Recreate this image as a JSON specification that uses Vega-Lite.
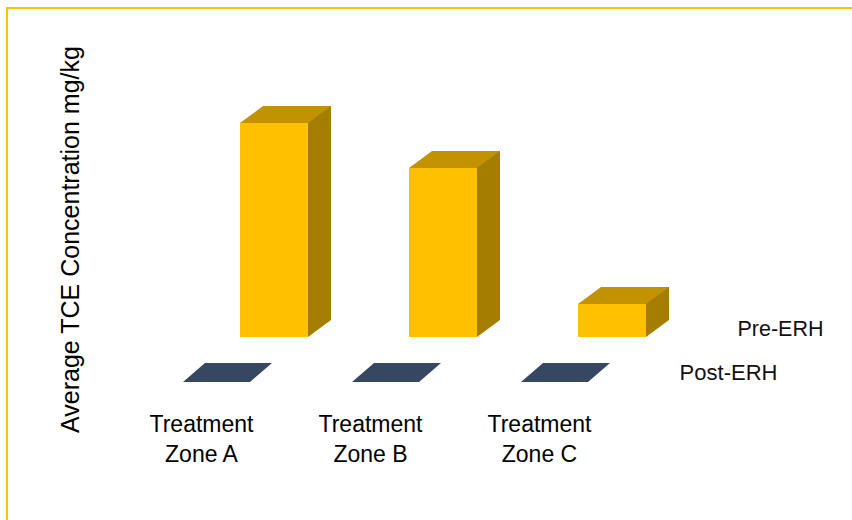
{
  "$schema": "https://vega.github.io/schema/vega-lite/v6.json",
  "width": 852,
  "height": 520,
  "autosize": "none",
  "padding": {"left": 7, "top": 8, "right": 0, "bottom": 0},
  "background": "white",
  "config": {
    "view": {"stroke": "#FFC000", "strokeWidth": 2},
    "font": "Liberation Sans"
  },
  "data": {
    "values": [
      {"zone": "Treatment Zone A", "period": "Pre-ERH", "value": 214},
      {"zone": "Treatment Zone B", "period": "Pre-ERH", "value": 169},
      {"zone": "Treatment Zone C", "period": "Pre-ERH", "value": 33},
      {"zone": "Treatment Zone A", "period": "Post-ERH", "value": 0},
      {"zone": "Treatment Zone B", "period": "Post-ERH", "value": 0},
      {"zone": "Treatment Zone C", "period": "Post-ERH", "value": 0}
    ]
  },
  "encoding": {
    "x": {
      "field": "zone",
      "type": "nominal",
      "sort": null,
      "scale": {"type": "point", "range": [267, 605], "padding": 0},
      "axis": {
        "title": null,
        "domain": false,
        "ticks": false,
        "grid": false,
        "labelAngle": 0,
        "labelFont": "Liberation Sans",
        "labelFontSize": 23,
        "labelColor": "#000000",
        "labelOffset": -73,
        "labelPadding": 13,
        "offset": -128,
        "labelAlign": "center",
        "labelBaseline": "top",
        "labelLineHeight": 30,
        "labelExpr": "[slice(datum.label, 0, 9), slice(datum.label, 10)]"
      }
    },
    "y": {
      "field": "value",
      "type": "quantitative",
      "scale": {"domain": [0, 250], "range": [329, 79]},
      "axis": {
        "title": "Average TCE Concentration mg/kg",
        "titleFont": "Liberation Sans",
        "titleFontSize": 25,
        "titleFontWeight": "normal",
        "titleColor": "#000000",
        "titleX": 63,
        "titleY": 231,
        "titleAngle": -90,
        "titleAlign": "center",
        "titleBaseline": "middle",
        "labels": false,
        "ticks": false,
        "domain": false,
        "grid": false
      }
    }
  },
  "layer": [
    {
      "transform": [{"filter": "datum.period === 'Post-ERH'"}],
      "mark": {
        "type": "point",
        "filled": true,
        "opacity": 1,
        "size": 4,
        "color": "#364761",
        "strokeWidth": 0,
        "shape": "M-91,45 L-24,45 L-2,26 L-69,26 Z"
      }
    },
    {
      "transform": [{"filter": "datum.period === 'Pre-ERH'"}],
      "mark": {
        "type": "bar",
        "width": 23,
        "xOffset": 45.5,
        "yOffset": -17,
        "color": "#A57D00"
      }
    },
    {
      "transform": [{"filter": "datum.period === 'Pre-ERH'"}],
      "mark": {
        "type": "point",
        "filled": true,
        "opacity": 1,
        "size": 4,
        "color": "#A57D00",
        "strokeWidth": 0,
        "shape": "M34,0 L34,-17 L57,-17 Z"
      },
      "encoding": {"y": {"datum": 0, "type": "quantitative"}}
    },
    {
      "transform": [{"filter": "datum.period === 'Pre-ERH'"}],
      "mark": {"type": "bar", "width": 68, "color": "#FFC000"}
    },
    {
      "transform": [{"filter": "datum.period === 'Pre-ERH'"}],
      "mark": {
        "type": "point",
        "filled": true,
        "opacity": 1,
        "size": 4,
        "color": "#C29200",
        "strokeWidth": 0,
        "shape": "M-34,0 L34,0 L57,-17 L-11,-17 Z"
      }
    },
    {
      "transform": [{"filter": "datum.period === 'Pre-ERH' && datum.zone === 'Treatment Zone C'"}],
      "mark": {
        "type": "text",
        "font": "Liberation Sans",
        "fontSize": 21.5,
        "color": "#111111",
        "align": "center",
        "baseline": "alphabetic",
        "dx": 168.5,
        "dy": -1
      },
      "encoding": {
        "y": {"datum": 0, "type": "quantitative"},
        "text": {"field": "period"}
      }
    },
    {
      "transform": [{"filter": "datum.period === 'Post-ERH' && datum.zone === 'Treatment Zone C'"}],
      "mark": {
        "type": "text",
        "font": "Liberation Sans",
        "fontSize": 22,
        "color": "#111111",
        "align": "center",
        "baseline": "alphabetic",
        "dx": 116.5,
        "dy": 43
      },
      "encoding": {
        "y": {"datum": 0, "type": "quantitative"},
        "text": {"field": "period"}
      }
    }
  ]
}
